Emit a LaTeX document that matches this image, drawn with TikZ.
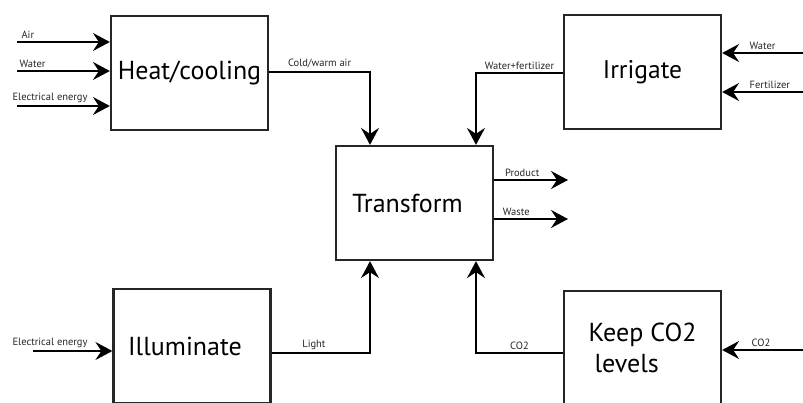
\documentclass[tikz,border=0pt]{standalone}
\usepackage{fontspec}
\setmainfont{PT Sans}
\usetikzlibrary{positioning, arrows.meta}

\begin{document}
\begin{tikzpicture}[
    x=1pt, y=-1pt,
    block/.style={
        rectangle,
        draw=black!85,
        line width=2.2pt,
        align=center,
        minimum width=157pt,
        minimum height=114pt,
        inner sep=0pt,
        font=\fontsize{26}{31}\selectfont
    },
    lbl/.style={font=\fontsize{10.5}{12}\selectfont, inner sep=2.5pt, text=black!85},
    arrow/.style={-{Stealth[length=17pt, width=18pt, inset=6pt]}, line width=2.2pt, draw=black}
]
\useasboundingbox (0,0) rectangle (803,403);

% process blocks
\node[block] (heat) at (189.5,73) {Heat/cooling};
\node[block, font=\fontsize{25.5}{31}\selectfont] (irrigate) at (642.5,72) {Irrigate};
\node[block] (transform) at (414.5,203) {Transform\hspace*{14pt}};
\node[block] (illuminate) at (192,346) {Illuminate\hspace*{14pt}};
\node[block, align=left] (keepco) at (642.5,348) {Keep CO2\\\hspace*{6pt}levels};

% free ends
\coordinate (airin) at (17,42);
\coordinate (waterin) at (17,71);
\coordinate (elecin) at (17,106);
\coordinate (waterin2) at (803,53);
\coordinate (fertin) at (803,92);
\coordinate (elecin2) at (33,351);
\coordinate (coin) at (803,350);
\coordinate (prodout) at (568,180);
\coordinate (wasteout) at (568,219);

% bends
\coordinate (airbend) at (370,72);
\coordinate (mixbend) at (476,73);
\coordinate (lightbend) at (370,353);
\coordinate (cobend) at (476,353);

% inputs
\draw[arrow] (airin) -- node[lbl, pos=0, anchor=south west, xshift=1pt] {Air} (airin -| heat.west);
\draw[arrow] (waterin) -- node[lbl, pos=0, anchor=south west, xshift=-1pt] {Water} (waterin -| heat.west);
\draw[arrow] (elecin) -- node[lbl, pos=0, anchor=south west, xshift=-8pt] {Electrical energy} (elecin -| heat.west);
\draw[arrow] (waterin2) -- node[lbl, pos=1, anchor=south west, xshift=24pt] {Water} (waterin2 -| irrigate.east);
\draw[arrow] (fertin) -- node[lbl, pos=1, anchor=south west, xshift=24pt] {Fertilizer} (fertin -| irrigate.east);
\draw[arrow] (elecin2) -- node[lbl, pos=0, anchor=south west, xshift=-24pt] {Electrical energy} (elecin2 -| illuminate.west);
\draw[arrow] (coin) -- node[lbl, pos=1, anchor=south west, xshift=26pt] {CO2} (coin -| keepco.east);

% flows into transform
\draw[arrow] (airbend -| heat.east) -- node[lbl, midway, above] {Cold/warm air} (airbend) -- (airbend |- transform.north);
\draw[arrow] (mixbend -| irrigate.west) -- node[lbl, midway, above] {Water+fertilizer} (mixbend) -- (mixbend |- transform.north);
\draw[arrow] (lightbend -| illuminate.east) -- node[lbl, pos=0.43, above] {Light} (lightbend) -- (lightbend |- transform.south);
\draw[arrow] (cobend -| keepco.west) -- node[lbl, midway, above] {CO2} (cobend) -- (cobend |- transform.south);

% outputs
\draw[arrow] (transform.east |- prodout) -- node[lbl, pos=0.38, above] {Product} (prodout);
\draw[arrow] (transform.east |- wasteout) -- node[lbl, pos=0.3, above] {Waste} (wasteout);

\end{tikzpicture}
\end{document}
